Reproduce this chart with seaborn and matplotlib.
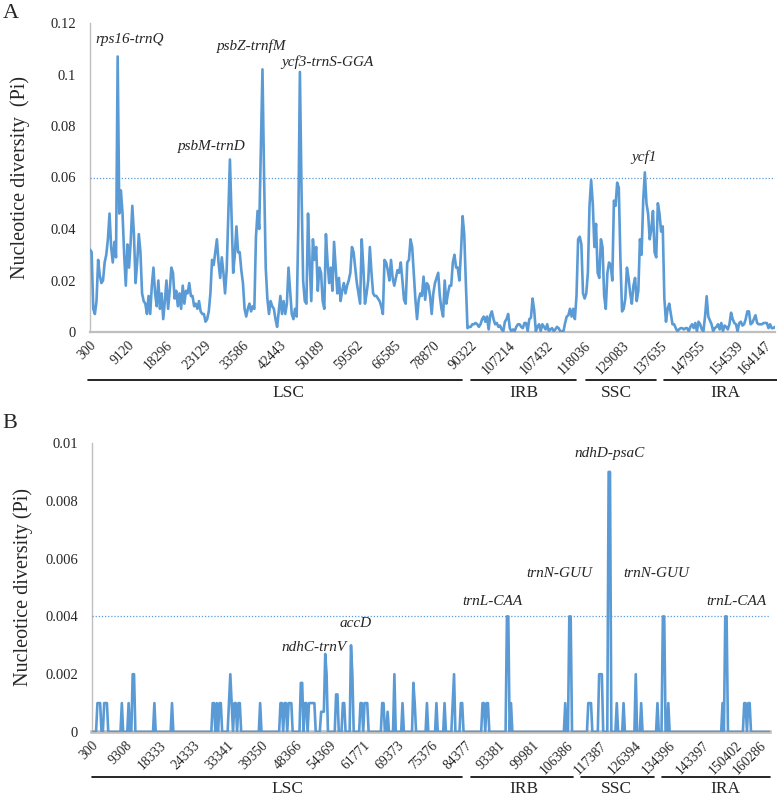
import matplotlib
matplotlib.use("Agg")
import matplotlib.pyplot as plt
import matplotlib.transforms as mtransforms
import numpy as np
import seaborn as sns

# ---------------------------------------------------------------------------
# Panel A: sliding-window nucleotide diversity (Pi), 19 labelled windows
# ---------------------------------------------------------------------------
pi_a = [
    0.032, 0.031, 0.009, 0.007, 0.012, 0.028, 0.022, 0.019, 0.020, 0.027,
    0.030, 0.036, 0.046, 0.033, 0.027, 0.035, 0.029, 0.107, 0.046, 0.055,
    0.046, 0.030, 0.018, 0.034, 0.025, 0.035, 0.049, 0.038, 0.019, 0.027,
    0.038, 0.031, 0.015, 0.012, 0.011, 0.007, 0.014, 0.007, 0.018, 0.025,
    0.015, 0.010, 0.020, 0.009, 0.015, 0.005, 0.012, 0.020, 0.009, 0.016,
    0.025, 0.023, 0.013, 0.016, 0.010, 0.015, 0.009, 0.018, 0.011, 0.016,
    0.015, 0.019, 0.014, 0.014, 0.010, 0.011, 0.009, 0.012, 0.008, 0.007,
    0.007, 0.004, 0.005, 0.008, 0.015, 0.028, 0.026, 0.031, 0.036, 0.027,
    0.021, 0.029, 0.023, 0.015, 0.024, 0.045, 0.067, 0.045, 0.023, 0.030,
    0.041, 0.031, 0.031, 0.024, 0.019, 0.009, 0.006, 0.009, 0.011, 0.008,
    0.010, 0.009, 0.037, 0.047, 0.040, 0.070, 0.102, 0.060, 0.025, 0.013,
    0.007, 0.012, 0.010, 0.009, 0.005, 0.002, 0.008, 0.014, 0.007, 0.012,
    0.007, 0.011, 0.025, 0.016, 0.007, 0.005, 0.009, 0.006, 0.040, 0.101,
    0.055, 0.020, 0.012, 0.011, 0.046, 0.027, 0.012, 0.036, 0.028, 0.033,
    0.016, 0.025, 0.023, 0.012, 0.009, 0.038, 0.027, 0.019, 0.025, 0.016,
    0.035, 0.025, 0.015, 0.021, 0.012, 0.016, 0.019, 0.015, 0.018, 0.020,
    0.023, 0.033, 0.031, 0.025, 0.019, 0.015, 0.011, 0.036, 0.025, 0.011,
    0.015, 0.020, 0.033, 0.023, 0.015, 0.014, 0.014, 0.013, 0.012, 0.010,
    0.007, 0.028, 0.027, 0.024, 0.020, 0.028, 0.021, 0.018, 0.021, 0.024,
    0.023, 0.027, 0.020, 0.0125, 0.011, 0.027, 0.028, 0.036, 0.033, 0.023,
    0.0125, 0.005, 0.0125, 0.015, 0.014, 0.0215, 0.0125, 0.019, 0.018, 0.014,
    0.007, 0.015, 0.019, 0.021, 0.023, 0.014, 0.009, 0.006, 0.020, 0.011,
    0.015, 0.018, 0.018, 0.027, 0.030, 0.025, 0.025, 0.020, 0.031, 0.045,
    0.038, 0.019, 0.0015, 0.002, 0.002, 0.003, 0.003, 0.0035, 0.003, 0.002,
    0.003, 0.005, 0.006, 0.004, 0.006, 0.001, 0.0065, 0.008, 0.005, 0.003,
    0.0035, 0.002, 0.0025, 0.001, 0.0003, 0.004, 0.005, 0.007, 0.0015, 0.0003,
    0.001, 0.0003, 0.002, 0.003, 0.003, 0.002, 0.0015, 0.0035, 0.0035, 0.0003,
    0.005, 0.0055, 0.013, 0.0085, 0.0003, 0.002, 0.003, 0.0003, 0.003, 0.002,
    0.001, 0.003, 0.0003, 0.001, 0.0015, 0.0003, 0.001, 0.002, 0.0015, 0.0003,
    0.0003, 0.0003, 0.0035, 0.006, 0.0065, 0.009, 0.006, 0.009, 0.005, 0.014,
    0.036, 0.037, 0.034, 0.015, 0.013, 0.015, 0.023, 0.049, 0.059, 0.050,
    0.033, 0.042, 0.023, 0.021, 0.036, 0.033, 0.014, 0.009, 0.023, 0.027,
    0.026, 0.020, 0.051, 0.049, 0.058, 0.056, 0.028, 0.008, 0.009, 0.013,
    0.025, 0.021, 0.015, 0.011, 0.018, 0.021, 0.012, 0.016, 0.036, 0.030,
    0.051, 0.062, 0.050, 0.046, 0.036, 0.040, 0.047, 0.031, 0.029, 0.050,
    0.046, 0.039, 0.041, 0.013, 0.004, 0.009, 0.011, 0.007, 0.003, 0.003,
    0.0015, 0.0003, 0.001, 0.0015, 0.0015, 0.001, 0.0015, 0.0015, 0.0003, 0.002,
    0.003, 0.0015, 0.0035, 0.0003, 0.004, 0.003, 0.001, 0.0003, 0.006, 0.0139,
    0.006, 0.0045, 0.003, 0.0003, 0.0015, 0.002, 0.003, 0.001, 0.0035, 0.0003,
    0.0025, 0.002, 0.001, 0.003, 0.0075, 0.005, 0.0035, 0.003, 0.0003, 0.0035,
    0.004, 0.0025, 0.003, 0.005, 0.008, 0.008, 0.003, 0.0035, 0.005, 0.0065,
    0.0035, 0.003, 0.003, 0.003, 0.0035, 0.0035, 0.0035, 0.0015, 0.003, 0.0015,
    0.0015, 0.002,
]
labels_a = ["300", "9120", "18296", "23129", "33586", "42443", "50189", "59562",
            "66585", "78870", "90322", "107214", "107432", "118036", "129083",
            "137635", "147955", "154539", "164147"]
yticks_a = [0, 0.02, 0.04, 0.06, 0.08, 0.1, 0.12]
ylabels_a = ["0", "0.02", "0.04", "0.06", "0.08", "0.1", "0.12"]
cut_a = 0.06

# ---------------------------------------------------------------------------
# Panel B: 501 windows, most are 0 -> only the non-zero windows are listed
# ---------------------------------------------------------------------------
n_win_b = 501
win_b = [4, 5, 6, 9, 10, 11, 22, 27, 30, 31, 46, 59, 89, 90, 92, 94, 95,
         101, 102, 103, 105, 106, 108, 109, 124, 139, 140, 142, 143, 145, 146,
         147, 154, 155, 157, 158, 160, 161, 162, 163, 164, 169, 170, 171, 172,
         173, 180, 181, 185, 186, 191, 192, 198, 199, 201, 202, 203, 214, 215,
         218, 223, 229, 237, 238, 247, 254, 260, 266, 267, 272, 273, 288, 289,
         291, 292, 306, 307, 309, 349, 352, 353, 366, 367, 368, 374, 375, 376,
         381, 382, 387, 392, 401, 405, 417, 421, 422, 425, 465, 467, 468, 481,
         482, 484, 485]
pi_b_nonzero = [0.001, 0.001, 0.001, 0.001, 0.001, 0.001, 0.001, 0.001, 0.002,
                0.002, 0.001, 0.001, 0.001, 0.001, 0.001, 0.001, 0.001,
                0.001, 0.002, 0.001, 0.001, 0.001, 0.001, 0.001, 0.001, 0.001,
                0.001, 0.001, 0.001, 0.001, 0.001, 0.001, 0.0017, 0.0017, 0.001,
                0.001, 0.001, 0.001, 0.001, 0.001, 0.001, 0.0007, 0.0007, 0.0007,
                0.0027, 0.002, 0.0013, 0.0013, 0.001, 0.001, 0.003, 0.002, 0.001,
                0.001, 0.001, 0.001, 0.001, 0.001, 0.001, 0.0007, 0.002, 0.001,
                0.0017, 0.001, 0.001, 0.001, 0.001, 0.001, 0.002, 0.001, 0.001,
                0.001, 0.001, 0.001, 0.001, 0.004, 0.004, 0.001, 0.001, 0.004,
                0.004, 0.001, 0.001, 0.001, 0.002, 0.002, 0.002, 0.009, 0.009,
                0.001, 0.001, 0.002, 0.001, 0.001, 0.004, 0.004, 0.001, 0.001,
                0.004, 0.004, 0.001, 0.001, 0.001, 0.001]
labels_b = ["300", "9308", "18333", "24333", "33341", "39350", "48366", "54369",
            "61771", "69373", "75376", "84377", "93381", "99981", "106386",
            "117387", "126394", "134396", "143397", "150402", "160286"]
yticks_b = [0, 0.002, 0.004, 0.006, 0.008, 0.01]
ylabels_b = ["0", "0.002", "0.004", "0.006", "0.008", "0.01"]
cut_b = 0.004

pi_b = np.zeros(n_win_b)
pi_b[win_b] = pi_b_nonzero

# region bars (axes fraction) and peak labels (axes fraction)
regions_a = [("LSC", -0.003, 0.543, 0.289), ("IRB", 0.556, 0.709, 0.634),
             ("SSC", 0.724, 0.826, 0.769), ("IRA", 0.838, 1.003, 0.927)]
regions_b = [("LSC", 0.0, 0.546, 0.289), ("IRB", 0.559, 0.709, 0.637),
             ("SSC", 0.721, 0.829, 0.773), ("IRA", 0.841, 1.0, 0.934)]
peaks_a = [("rps16-trnQ", 0.058, 0.945), ("psbZ-trnfM", 0.236, 0.926),
           ("ycf3-trnS-GGA", 0.347, 0.874), ("psbM-trnD", 0.178, 0.599),
           ("ycf1", 0.809, 0.566)]
peaks_b = [("ndhC-trnV", 0.327, 0.291), ("accD", 0.389, 0.377),
           ("trnL-CAA", 0.591, 0.450), ("trnN-GUU", 0.690, 0.547),
           ("ndhD-psaC", 0.763, 0.965), ("trnN-GUU", 0.832, 0.547),
           ("trnL-CAA", 0.950, 0.450)]

BLUE = "#5b9bd5"
GREY = "#bfbfbf"

sns.set_theme(style="white")
plt.rcParams["font.family"] = ["Liberation Serif", "DejaVu Serif"]

fig = plt.figure(figsize=(7.77, 8.0), dpi=100)
ax_a = fig.add_axes([90 / 777, 1 - 332 / 800, 685 / 777, 309 / 800])
ax_b = fig.add_axes([92 / 777, 1 - 732 / 800, 678 / 777, 289 / 800])


def draw_panel(ax, values, labels, yticks, ylabels, cut, ylabel, regions, peaks,
               ymax, bottom_lw):
    x = np.arange(len(values))
    sns.lineplot(x=x, y=values, ax=ax, color=BLUE, linewidth=1.9,
                 estimator=None, sort=False)
    ax.axhline(cut, color=BLUE, linestyle=(0, (1, 1.5)), linewidth=0.9)
    ax.set_xlim(0, len(values) - 1)
    ax.set_ylim(0, ymax)
    ax.set_yticks(yticks)
    ax.set_yticklabels(ylabels, fontsize=10.5)

    # rotated category labels, drawn as texts so the last one can be nudged in
    ticks = np.linspace(0, len(values) - 1, len(labels))
    ax.set_xticks(ticks)
    ax.set_xticklabels([])
    base = mtransforms.blended_transform_factory(ax.transData, ax.transAxes)
    for i, (tx, lab) in enumerate(zip(ticks, labels)):
        dx = -0.1 if i == len(labels) - 1 else 0.0
        shift = mtransforms.ScaledTranslation(dx, -0.07, fig.dpi_scale_trans)
        ax.text(tx, 0, lab, transform=base + shift, rotation=45, ha="right",
                va="top", rotation_mode="anchor", fontsize=9.8)

    ax.tick_params(axis="both", length=0)
    ax.tick_params(axis="y", pad=10)
    ax.set_xlabel("")
    ax.set_ylabel(ylabel, fontsize=14.5)
    ax.yaxis.set_label_coords(-0.087, 0.5)
    for side in ["top", "right"]:
        ax.spines[side].set_visible(False)
    ax.spines["left"].set_color(GREY)
    ax.spines["left"].set_linewidth(1.0)
    ax.spines["bottom"].set_color(GREY)
    ax.spines["bottom"].set_linewidth(bottom_lw)
    ax.spines["left"].set_zorder(0)
    ax.spines["bottom"].set_zorder(0)
    for name, x0, x1, xc in regions:
        ax.plot([x0, x1], [-0.155, -0.155], color="black", linewidth=1.2,
                transform=ax.transAxes, clip_on=False)
        ax.text(xc, -0.198, name, transform=ax.transAxes, ha="center",
                va="center", fontsize=12.5)
    for name, xp, yp in peaks:
        ax.text(xp, yp, name, transform=ax.transAxes, ha="center", va="center",
                fontsize=11, style="italic")


draw_panel(ax_a, pi_a, labels_a, yticks_a, ylabels_a, cut_a,
           "Nucleotice diversity  (Pi)", regions_a, peaks_a, 0.12, 1.6)
draw_panel(ax_b, pi_b, labels_b, yticks_b, ylabels_b, cut_b,
           "Nucleotice diversity (Pi)", regions_b, peaks_b, 0.01, 2.6)

fig.text(0.003, 1 - 14 / 800, "A", fontsize=16, ha="left", va="center")
fig.text(0.003, 1 - 423 / 800, "B", fontsize=16, ha="left", va="center")

fig.savefig("out.png", dpi=100)
